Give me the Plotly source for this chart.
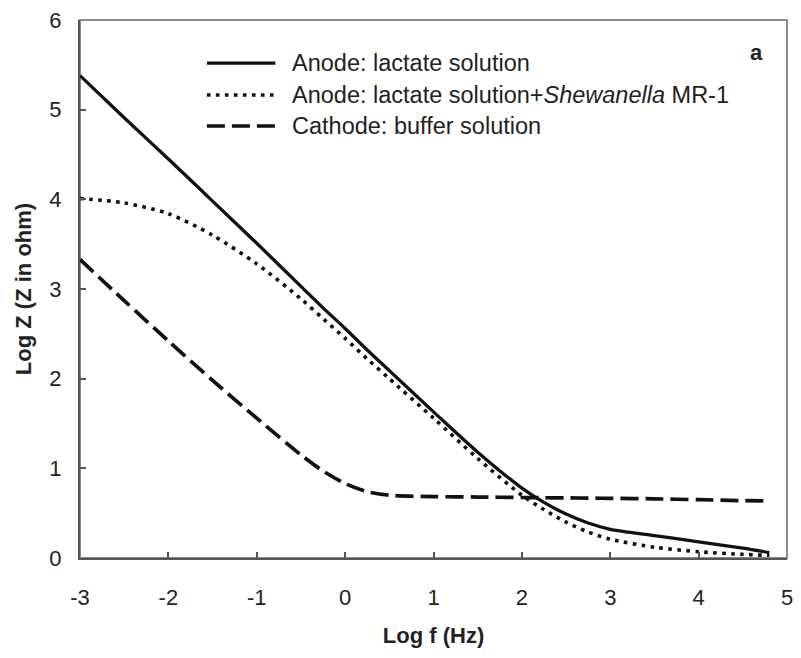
import plotly.graph_objects as go

# ---- data ----
log_f = [-3, -2.5, -2, -1.5, -1, -0.5, -0.25, 0, 0.25, 0.5, 1, 1.5, 2, 2.25, 2.5, 2.75, 3, 3.5, 4, 4.5, 4.8]
anode_lactate = [5.38, 4.91, 4.45, 3.98, 3.51, 3.03, 2.79, 2.56, 2.32, 2.09, 1.63, 1.18, 0.78, 0.62, 0.49, 0.39, 0.32, 0.25, 0.18, 0.11, 0.06]
anode_shewanella = [4.01, 3.96, 3.84, 3.60, 3.28, 2.89, 2.67, 2.45, 2.22, 2.00, 1.56, 1.11, 0.70, 0.54, 0.40, 0.29, 0.21, 0.12, 0.07, 0.04, 0.03]
cathode_buffer = [3.33, 2.87, 2.42, 1.98, 1.56, 1.15, 0.97, 0.83, 0.74, 0.70, 0.685, 0.68, 0.675, 0.672, 0.67, 0.668, 0.665, 0.66, 0.65, 0.64, 0.635]

series_names = [
    "Anode: lactate solution",
    "Anode: lactate solution+<i>Shewanella</i> MR-1",
    "Cathode: buffer solution",
]
x_ticks = [-3, -2, -1, 0, 1, 2, 3, 4, 5]
x_tick_labels = ["-3", "-2", "-1", "0", "1", "2", "3", "4", "5"]
y_ticks = [0, 1, 2, 3, 4, 5, 6]
y_tick_labels = ["0", "1", "2", "3", "4", "5", "6"]

FONT = "Liberation Sans, Arial, sans-serif"
INK = "#111111"

styles = [
    dict(color=INK, width=3.3, dash="solid"),
    dict(color=INK, width=3.6, dash="3.6px,5.4px"),
    dict(color=INK, width=3.7, dash="18px,7px"),
]

fig = go.Figure()
for name, ys, st in zip(series_names, [anode_lactate, anode_shewanella, cathode_buffer], styles):
    fig.add_trace(go.Scatter(
        x=log_f, y=ys, mode="lines", name=name, showlegend=False,
        line=dict(shape="spline", smoothing=0.8, **st),
    ))

# manual legend (long line samples like the reference)
leg_y = [0.920, 0.8606, 0.803]
for name, st, yy in zip(series_names, styles, leg_y):
    fig.add_shape(type="line", xref="paper", yref="paper",
                  x0=0.1795, x1=0.2763, y0=yy, y1=yy,
                  line=dict(color=st["color"], width=st["width"], dash=st["dash"]))
    fig.add_annotation(xref="paper", yref="paper", x=0.2973, y=yy,
                       xanchor="left", yanchor="middle", showarrow=False,
                       text=name, font=dict(family=FONT, size=23.5, color="#222"))

fig.add_annotation(xref="paper", yref="paper", x=0.9565, y=0.9387,
                   xanchor="center", yanchor="middle", showarrow=False,
                   text="<b>a</b>", font=dict(family=FONT, size=22, color="#222"))

# frame (top/right lighter)
fig.add_shape(type="rect", xref="paper", yref="paper", x0=0, x1=1, y0=0, y1=1,
              line=dict(color="#8a8a8a", width=2), layer="below")

fig.update_layout(
    width=801, height=658,
    margin=dict(l=80, r=8, t=20, b=100),
    paper_bgcolor="white", plot_bgcolor="white",
    font=dict(family=FONT, color="#222"),
    xaxis=dict(
        range=[-3, 5], tickvals=x_ticks, ticktext=x_tick_labels,
        ticks="inside", ticklen=6, tickwidth=1.5,
        tickcolor="#555", showline=True, linecolor="#555", linewidth=2,
        showgrid=False, zeroline=False, tickfont=dict(size=22, family=FONT),
        ticklabelstandoff=19,
        title=dict(text="<b>Log f (Hz)</b>", font=dict(size=22, family=FONT), standoff=18),
    ),
    yaxis=dict(
        range=[0, 6], tickvals=y_ticks, ticktext=y_tick_labels,
        ticks="inside", ticklen=6, tickwidth=1.5,
        tickcolor="#555", showline=True, linecolor="#555", linewidth=2,
        showgrid=False, zeroline=False, tickfont=dict(size=22, family=FONT),
        ticklabelstandoff=12,
        title=dict(text="<b>Log Z (Z in ohm)</b>", font=dict(size=22, family=FONT), standoff=12),
    ),
)

fig.write_html("out.html")
